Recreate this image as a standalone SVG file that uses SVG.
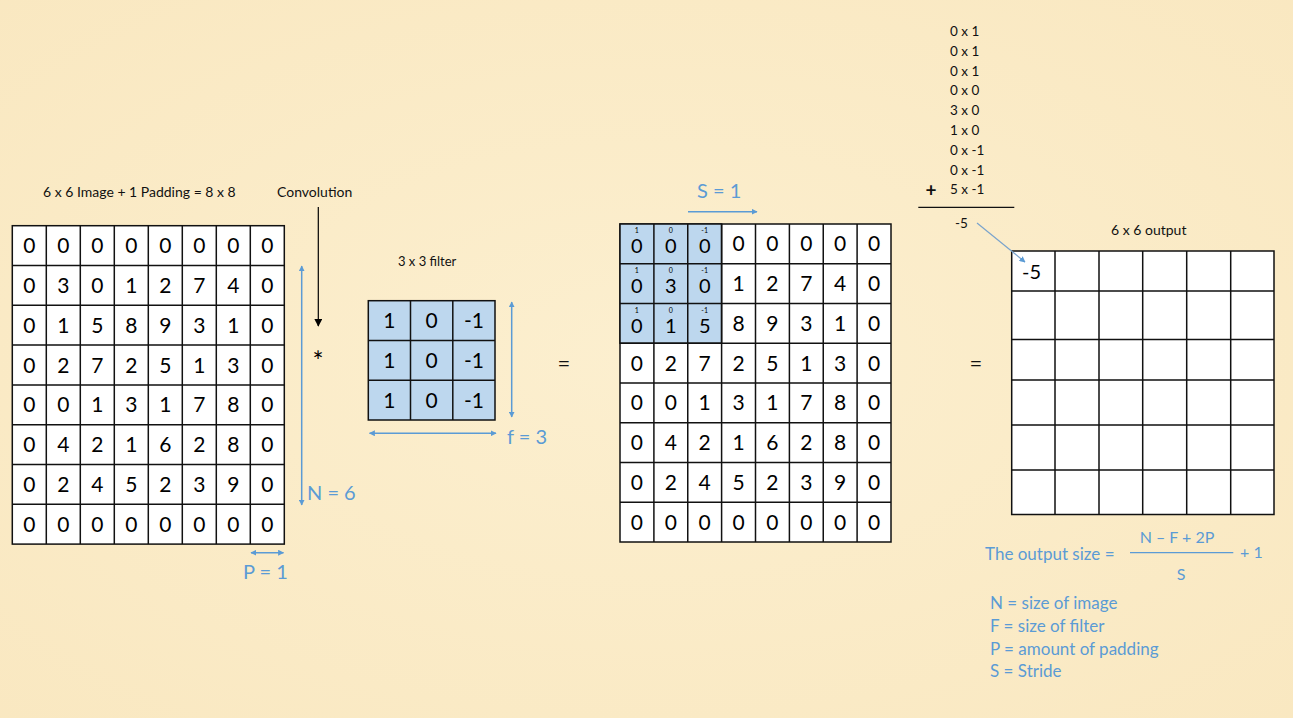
<svg xmlns="http://www.w3.org/2000/svg" width="1293" height="718" viewBox="0 0 1293 718">
<defs>
<style>
text{font-family:Lato,"Open Sans","Liberation Sans",sans-serif;}
.lbl{font-size:14px;fill:#111;}
.big{font-size:21px;fill:#000;text-anchor:middle;}
.sbig{font-size:20px;fill:#000;text-anchor:middle;}
.sup{font-size:7px;fill:#000;text-anchor:middle;}
.blue{fill:#5b9bd5;}
.bl{font-size:20px;fill:#5b9bd5;}
.leg{font-size:17px;fill:#5b9bd5;}
.cell{fill:#fff;stroke:#111;stroke-width:1.5;}
.fcell{fill:#bdd7ee;stroke:#111;stroke-width:1.5;}
.ln{stroke:#111;stroke-width:1.5;}
.barrow{stroke:#5b9bd5;stroke-width:1.5;fill:none;}
</style>
<marker id="ba" viewBox="0 0 10 10" refX="9" refY="5" markerWidth="6" markerHeight="6" markerUnits="userSpaceOnUse" orient="auto-start-reverse">
<path d="M0,0 L10,5 L0,10 z" fill="#5b9bd5"/>
</marker>
<marker id="ka" viewBox="0 0 10 10" refX="9" refY="5" markerWidth="8" markerHeight="8" markerUnits="userSpaceOnUse" orient="auto">
<path d="M0,0 L10,5 L0,10 z" fill="#000"/>
</marker>
<radialGradient id="bg" cx="0.5" cy="0.5" r="0.8">
<stop offset="0" stop-color="#fcefcf"/>
<stop offset="1" stop-color="#f9e7bf"/>
</radialGradient>
</defs>
<rect width="1293" height="718" fill="url(#bg)"/>

<g id="image-grid">
<text class="lbl" x="43" y="197">6 x 6 Image + 1 Padding = 8 x 8</text>
<rect class="cell" x="12.3" y="225.7" width="272" height="318.4"/>
<path class="ln" d="M46.3,225.7V544.1M80.3,225.7V544.1M114.3,225.7V544.1M148.3,225.7V544.1M182.3,225.7V544.1M216.3,225.7V544.1M250.3,225.7V544.1M12.3,265.5H284.3M12.3,305.3H284.3M12.3,345.1H284.3M12.3,384.9H284.3M12.3,424.7H284.3M12.3,464.5H284.3M12.3,504.3H284.3"/>
<g class="big">
<text x="29.3" y="253.1">0</text><text x="63.3" y="253.1">0</text><text x="97.3" y="253.1">0</text><text x="131.3" y="253.1">0</text><text x="165.3" y="253.1">0</text><text x="199.3" y="253.1">0</text><text x="233.3" y="253.1">0</text><text x="267.3" y="253.1">0</text>
<text x="29.3" y="292.9">0</text><text x="63.3" y="292.9">3</text><text x="97.3" y="292.9">0</text><text x="131.3" y="292.9">1</text><text x="165.3" y="292.9">2</text><text x="199.3" y="292.9">7</text><text x="233.3" y="292.9">4</text><text x="267.3" y="292.9">0</text>
<text x="29.3" y="332.7">0</text><text x="63.3" y="332.7">1</text><text x="97.3" y="332.7">5</text><text x="131.3" y="332.7">8</text><text x="165.3" y="332.7">9</text><text x="199.3" y="332.7">3</text><text x="233.3" y="332.7">1</text><text x="267.3" y="332.7">0</text>
<text x="29.3" y="372.5">0</text><text x="63.3" y="372.5">2</text><text x="97.3" y="372.5">7</text><text x="131.3" y="372.5">2</text><text x="165.3" y="372.5">5</text><text x="199.3" y="372.5">1</text><text x="233.3" y="372.5">3</text><text x="267.3" y="372.5">0</text>
<text x="29.3" y="412.3">0</text><text x="63.3" y="412.3">0</text><text x="97.3" y="412.3">1</text><text x="131.3" y="412.3">3</text><text x="165.3" y="412.3">1</text><text x="199.3" y="412.3">7</text><text x="233.3" y="412.3">8</text><text x="267.3" y="412.3">0</text>
<text x="29.3" y="452.1">0</text><text x="63.3" y="452.1">4</text><text x="97.3" y="452.1">2</text><text x="131.3" y="452.1">1</text><text x="165.3" y="452.1">6</text><text x="199.3" y="452.1">2</text><text x="233.3" y="452.1">8</text><text x="267.3" y="452.1">0</text>
<text x="29.3" y="491.9">0</text><text x="63.3" y="491.9">2</text><text x="97.3" y="491.9">4</text><text x="131.3" y="491.9">5</text><text x="165.3" y="491.9">2</text><text x="199.3" y="491.9">3</text><text x="233.3" y="491.9">9</text><text x="267.3" y="491.9">0</text>
<text x="29.3" y="531.7">0</text><text x="63.3" y="531.7">0</text><text x="97.3" y="531.7">0</text><text x="131.3" y="531.7">0</text><text x="165.3" y="531.7">0</text><text x="199.3" y="531.7">0</text><text x="233.3" y="531.7">0</text><text x="267.3" y="531.7">0</text>
</g>
<text class="bl" x="307" y="500">N = 6</text>
<text class="bl" x="243" y="579">P = 1</text>
</g>

<g id="convolution-label">
<text class="lbl" x="277" y="197">Convolution</text>
<text x="318" y="371" font-size="26" fill="#000" text-anchor="middle">*</text>
</g>

<g id="filter">
<text x="398" y="266" font-size="13" fill="#111">3 x 3 filter</text>
<rect class="fcell" x="368.3" y="300.7" width="126.7" height="119.3"/>
<path class="ln" d="M410.5,300.7V420M452.8,300.7V420M368.3,340.5H495M368.3,380.2H495"/>
<g class="big">
<text x="389.4" y="328.1">1</text><text x="431.7" y="328.1">0</text><text x="473.9" y="328.1">-1</text>
<text x="389.4" y="367.8">1</text><text x="431.7" y="367.8">0</text><text x="473.9" y="367.8">-1</text>
<text x="389.4" y="407.6">1</text><text x="431.7" y="407.6">0</text><text x="473.9" y="407.6">-1</text>
</g>
<text class="bl" x="507" y="444">f = 3</text>
</g>

<g id="equals-1"><text x="564" y="371" font-size="22" fill="#111" text-anchor="middle">=</text></g>

<g id="padded-grid">
<text class="bl" x="697" y="198">S = 1</text>
<rect class="cell" x="620" y="224" width="271" height="318"/>
<rect class="fcell" x="620" y="224" width="101.6" height="119.25"/>
<path class="ln" d="M653.9,224V542M687.75,224V542M721.6,224V542M755.5,224V542M789.4,224V542M823.25,224V542M857.1,224V542M620,263.75H891M620,303.5H891M620,343.25H891M620,383H891M620,422.75H891M620,462.5H891M620,502.25H891"/>
<g class="sup">
<text x="636.9" y="233">1</text><text x="670.8" y="233">0</text><text x="704.7" y="233">-1</text>
<text x="636.9" y="272.75">1</text><text x="670.8" y="272.75">0</text><text x="704.7" y="272.75">-1</text>
<text x="636.9" y="312.5">1</text><text x="670.8" y="312.5">0</text><text x="704.7" y="312.5">-1</text>
</g>
<g class="sbig">
<text x="636.9" y="253">0</text><text x="670.8" y="253">0</text><text x="704.7" y="253">0</text>
<text x="636.9" y="292.75">0</text><text x="670.8" y="292.75">3</text><text x="704.7" y="292.75">0</text>
<text x="636.9" y="332.5">0</text><text x="670.8" y="332.5">1</text><text x="704.7" y="332.5">5</text>
</g>
<g class="big">
<text x="738.6" y="251.4">0</text><text x="772.4" y="251.4">0</text><text x="806.3" y="251.4">0</text><text x="840.2" y="251.4">0</text><text x="874.1" y="251.4">0</text>
<text x="738.6" y="291.1">1</text><text x="772.4" y="291.1">2</text><text x="806.3" y="291.1">7</text><text x="840.2" y="291.1">4</text><text x="874.1" y="291.1">0</text>
<text x="738.6" y="330.9">8</text><text x="772.4" y="330.9">9</text><text x="806.3" y="330.9">3</text><text x="840.2" y="330.9">1</text><text x="874.1" y="330.9">0</text>
<text x="636.9" y="370.6">0</text><text x="670.8" y="370.6">2</text><text x="704.7" y="370.6">7</text><text x="738.6" y="370.6">2</text><text x="772.4" y="370.6">5</text><text x="806.3" y="370.6">1</text><text x="840.2" y="370.6">3</text><text x="874.1" y="370.6">0</text>
<text x="636.9" y="410.4">0</text><text x="670.8" y="410.4">0</text><text x="704.7" y="410.4">1</text><text x="738.6" y="410.4">3</text><text x="772.4" y="410.4">1</text><text x="806.3" y="410.4">7</text><text x="840.2" y="410.4">8</text><text x="874.1" y="410.4">0</text>
<text x="636.9" y="450.1">0</text><text x="670.8" y="450.1">4</text><text x="704.7" y="450.1">2</text><text x="738.6" y="450.1">1</text><text x="772.4" y="450.1">6</text><text x="806.3" y="450.1">2</text><text x="840.2" y="450.1">8</text><text x="874.1" y="450.1">0</text>
<text x="636.9" y="489.9">0</text><text x="670.8" y="489.9">2</text><text x="704.7" y="489.9">4</text><text x="738.6" y="489.9">5</text><text x="772.4" y="489.9">2</text><text x="806.3" y="489.9">3</text><text x="840.2" y="489.9">9</text><text x="874.1" y="489.9">0</text>
<text x="636.9" y="529.6">0</text><text x="670.8" y="529.6">0</text><text x="704.7" y="529.6">0</text><text x="738.6" y="529.6">0</text><text x="772.4" y="529.6">0</text><text x="806.3" y="529.6">0</text><text x="840.2" y="529.6">0</text><text x="874.1" y="529.6">0</text>
</g>
</g>

<g id="computation" font-size="13.5" fill="#111">
<text x="950" y="36">0 x 1</text>
<text x="950" y="55.8">0 x 1</text>
<text x="950" y="75.6">0 x 1</text>
<text x="950" y="95.4">0 x 0</text>
<text x="950" y="115.2">3 x 0</text>
<text x="950" y="135">1 x 0</text>
<text x="950" y="154.8">0 x -1</text>
<text x="950" y="174.6">0 x -1</text>
<text x="950" y="194.4">5 x -1</text>
<text x="931" y="197" font-size="19" font-weight="bold" text-anchor="middle">+</text>
<line x1="918.3" y1="207.3" x2="1014.3" y2="207.3" stroke="#111" stroke-width="1.2"/>
<text x="955" y="227.5">-5</text>
</g>

<g id="equals-2"><text x="976" y="371" font-size="22" fill="#111" text-anchor="middle">=</text></g>

<g id="output-grid">
<text x="1111" y="234.5" font-size="14" fill="#111">6 x 6 output</text>
<rect class="cell" x="1011.7" y="251" width="262.3" height="263.5"/>
<path class="ln" d="M1055,251V514.5M1099,251V514.5M1142.7,251V514.5M1186.7,251V514.5M1230.7,251V514.5M1011.7,291H1274M1011.7,339.5H1274M1011.7,380H1274M1011.7,425H1274M1011.7,470H1274"/>
<text x="1022" y="279" font-size="20" fill="#000">-5</text>
</g>

<g id="formula">
<text class="leg" x="985" y="560">The output size =</text>
<text x="1177" y="543" font-size="16" class="blue" text-anchor="middle">N – F + 2P</text>
<line x1="1130" y1="552.7" x2="1233.3" y2="552.7" stroke="#5b9bd5" stroke-width="1.2"/>
<text x="1181" y="580" font-size="16" class="blue" text-anchor="middle">S</text>
<text x="1240" y="558" font-size="16" class="blue">+ 1</text>
<text class="leg" x="990" y="609">N = size of image</text>
<text class="leg" x="990" y="632">F = size of filter</text>
<text class="leg" x="990" y="655">P = amount of padding</text>
<text class="leg" x="990" y="677">S = Stride</text>
</g>

<g id="connectors">
<line x1="318.3" y1="207" x2="318.3" y2="326" stroke="#000" stroke-width="1.2" marker-end="url(#ka)"/>
<line class="barrow" x1="301.7" y1="266" x2="301.7" y2="505" marker-start="url(#ba)" marker-end="url(#ba)"/>
<line class="barrow" x1="251" y1="552.7" x2="283.5" y2="552.7" marker-start="url(#ba)" marker-end="url(#ba)"/>
<line class="barrow" x1="511.7" y1="302" x2="511.7" y2="417" marker-start="url(#ba)" marker-end="url(#ba)"/>
<line class="barrow" x1="369.5" y1="433.3" x2="496" y2="433.3" marker-start="url(#ba)" marker-end="url(#ba)"/>
<line class="barrow" x1="688" y1="211.7" x2="757" y2="211.7" marker-end="url(#ba)"/>
<line x1="977" y1="223" x2="1025" y2="262" stroke="#7aa3cc" stroke-width="1.2" marker-end="url(#ba)"/>
</g>
</svg>
